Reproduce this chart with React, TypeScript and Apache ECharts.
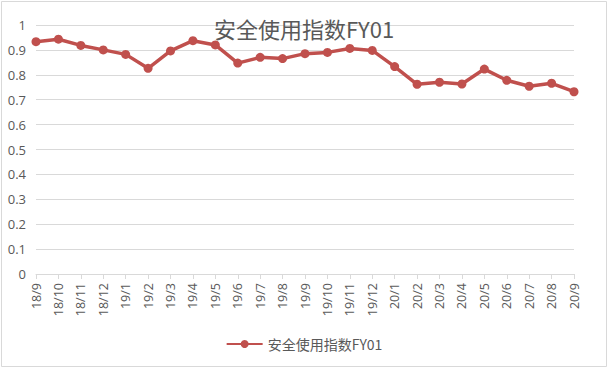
import React, { useEffect, useRef } from "react";
import * as echarts from "echarts";

const categories = ["18/9","18/10","18/11","18/12","19/1","19/2","19/3","19/4","19/5","19/6","19/7","19/8","19/9","19/10","19/11","19/12","20/1","20/2","20/3","20/4","20/5","20/6","20/7","20/8","20/9"];
const values = [0.933,0.943,0.918,0.900,0.882,0.826,0.896,0.937,0.920,0.847,0.870,0.865,0.885,0.890,0.906,0.898,0.833,0.762,0.770,0.763,0.823,0.778,0.754,0.766,0.732];
const seriesName = "安全使用指数FY01";
const titleText = "安全使用指数FY01";

export default function App() {
  const ref = useRef<HTMLDivElement>(null);
  useEffect(() => {
    const chart = echarts.init(ref.current!, null, { renderer: "svg" });
    chart.setOption({
      animation: false,
      backgroundColor: "#ffffff",
      title: {
        text: titleText,
        left: "center",
        top: 12,
        textStyle: { fontSize: 22, fontWeight: "normal", color: "#595959", fontFamily: "Noto Sans CJK SC" },
      },
      graphic: [
        {
          type: "rect",
          shape: { x: 1.5, y: 1.5, width: 605, height: 365 },
          style: { fill: "none", stroke: "#d9d9d9", lineWidth: 1 },
          silent: true,
          z: -1,
        },
      ],
      legend: {
        bottom: 12,
        left: "center",
        itemWidth: 36,
        itemHeight: 10,
        itemGap: 10,
        textStyle: { fontSize: 14, color: "#595959", fontFamily: "Noto Sans CJK SC" },
        data: [seriesName],
      },
      grid: { left: 36, right: 34, top: 25, bottom: 94, containLabel: false },
      xAxis: {
        type: "category",
        data: categories,
        boundaryGap: false,
        axisLine: { lineStyle: { color: "#d9d9d9" } },
        axisTick: { alignWithLabel: true, length: 5, lineStyle: { color: "#d9d9d9" } },
        axisLabel: { rotate: 90, interval: 0, fontSize: 12.5, color: "#595959", margin: 9, fontFamily: "Open Sans" },
      },
      yAxis: {
        type: "value",
        min: 0,
        max: 1,
        interval: 0.1,
        axisLine: { show: false },
        axisTick: { show: false },
        splitLine: { lineStyle: { color: "#d9d9d9" } },
        axisLabel: { fontSize: 13, color: "#595959", margin: 10, fontFamily: "Open Sans" },
      },
      series: [
        {
          name: seriesName,
          type: "line",
          data: values,
          symbol: "circle",
          symbolSize: 9,
          lineStyle: { width: 3.5, color: "#c0504d" },
          itemStyle: { color: "#c0504d" },
        },
      ],
    });
    return () => chart.dispose();
  }, []);
  return (
    <div style={{ position: "absolute", left: 0, top: 0, width: 608, height: 368 }}>
      <div ref={ref} style={{ width: 608, height: 368 }} />
    </div>
  );
}
